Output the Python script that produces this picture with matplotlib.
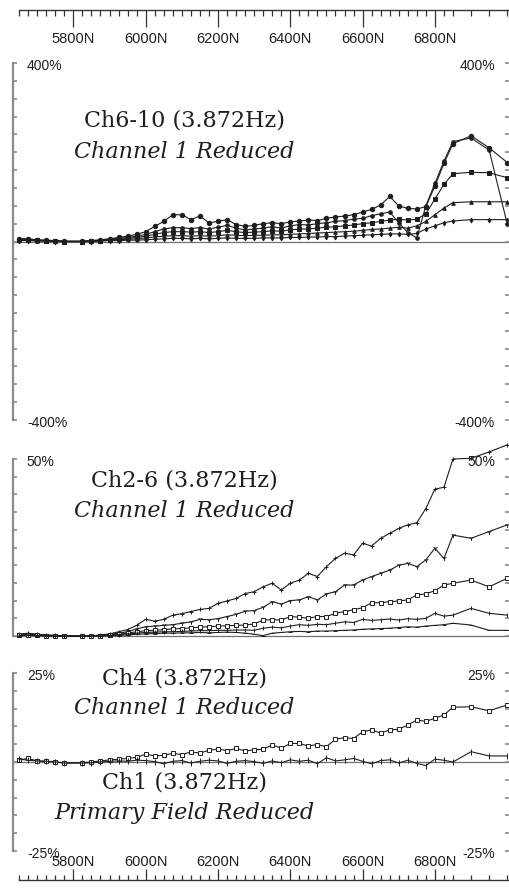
import numpy as np
import matplotlib.pyplot as plt

W, H = 509, 889

# station positions (N), shared by every panel
stations = [5650, 5675, 5700, 5725, 5750, 5775, 5825, 5850, 5875, 5900, 5925, 5950, 5975,
            6000, 6025, 6050, 6075, 6100, 6125, 6150, 6175, 6200, 6225,
            6250, 6275, 6300, 6325, 6350, 6375, 6400, 6425, 6450, 6475,
            6500, 6525, 6550, 6575, 6600, 6625, 6650, 6675, 6700, 6725,
            6750, 6775, 6800, 6825, 6850, 6900, 6950, 7000]
major_ticks = [5800, 6000, 6200, 6400, 6600, 6800]
major_labels = ["5800N", "6000N", "6200N", "6400N", "6600N", "6800N"]

# Ch6-10, channel 1 reduced (%)
ch6_p1 = [6, 6, 4, 3, 2, 1, 1, 2, 4, 6, 9, 12, 16,
          22, 34, 45, 60, 60, 49, 57, 42, 45, 49,
          38, 34, 36, 40, 42, 40, 44, 46, 48, 47,
          52, 55, 57, 60, 66, 72, 82, 101, 80, 74,
          73, 78, 124, 175, 219, 237, 210, 177]
ch7_p1 = [5, 5, 3, 2, 1, 0, 0, 1, 3, 5, 7, 9, 12,
          16, 22, 28, 31, 31, 29, 31, 28, 32, 36,
          30, 26, 28, 30, 33, 30, 35, 38, 37, 40,
          42, 45, 47, 50, 52, 58, 62, 66, 42, 20,
          8, 80, 130, 180, 224, 232, 205, 40]
ch8_p1 = [4, 4, 3, 2, 1, 0, 0, 1, 2, 4, 5, 7, 9,
          12, 16, 20, 22, 22, 21, 22, 20, 22, 25,
          22, 20, 21, 22, 24, 23, 26, 28, 28, 30,
          32, 33, 35, 37, 40, 42, 45, 48, 50, 48,
          50, 62, 95, 128, 152, 155, 154, 143]
ch9_p1 = [3, 3, 2, 1, 1, 0, 0, 1, 2, 3, 4, 5, 6,
          8, 10, 12, 13, 13, 12, 13, 12, 13, 15,
          14, 13, 14, 14, 15, 15, 16, 17, 18, 19,
          20, 21, 22, 23, 25, 27, 28, 30, 32, 30,
          35, 45, 60, 75, 87, 89, 89, 89]
ch10_p1 = [2, 2, 1, 1, 0, 0, 0, 0, 1, 2, 2, 3, 3,
           4, 5, 6, 7, 7, 6, 7, 6, 7, 8,
           7, 7, 7, 8, 8, 8, 9, 9, 10, 10,
           11, 11, 12, 13, 14, 15, 16, 17, 17, 16,
           18, 28, 35, 42, 46, 49, 49, 49]

# Ch2-6, channel 1 reduced (%)
ch2_p2 = [0.5, 0.8, 0.5, 0.3, 0.2, 0.0, 0.0, 0.0, 0.3, 0.6, 1.2, 1.8, 3.0,
          4.7, 4.2, 4.7, 5.9, 6.3, 6.9, 7.5, 7.8, 9.2, 9.9,
          10.6, 12.0, 12.5, 13.9, 14.9, 13.0, 14.9, 15.8, 17.7, 16.8,
          19.6, 21.9, 23.4, 22.9, 26.2, 25.4, 27.6, 29.0, 30.4, 31.4,
          32.0, 36.0, 41.5, 42.0, 50.0, 50.2, 52.0, 54.0]
ch3_p2 = [0.4, 0.6, 0.4, 0.2, 0.1, 0.0, 0.0, 0.0, 0.2, 0.4, 0.8, 1.2, 2.0,
          2.6, 2.8, 3.0, 3.2, 3.6, 4.0, 4.7, 4.6, 4.9, 5.5,
          6.1, 7.0, 7.2, 8.1, 9.7, 9.0, 10.0, 10.2, 11.1, 10.2,
          11.9, 12.5, 14.4, 14.4, 15.8, 16.8, 17.7, 18.6, 20.0, 20.5,
          19.6, 21.5, 24.8, 21.9, 28.5, 27.6, 29.5, 31.4]
ch4_p2 = [0.3, 0.4, 0.3, 0.1, 0.0, 0.0, 0.0, 0.0, 0.1, 0.3, 0.5, 0.8, 1.2,
          1.5, 1.6, 1.8, 2.0, 2.1, 2.3, 2.5, 2.6, 2.8, 2.9,
          3.0, 3.1, 3.4, 4.5, 4.6, 4.5, 5.5, 5.3, 5.0, 5.5,
          5.5, 6.4, 6.9, 7.4, 8.0, 9.4, 9.4, 9.7, 9.9, 10.2,
          11.6, 11.9, 12.8, 14.4, 14.9, 15.8, 13.9, 16.3]
ch5_p2 = [0.2, 0.3, 0.2, 0.1, 0.0, 0.0, 0.0, 0.0, 0.1, 0.2, 0.4, 0.6, 0.8,
          1.0, 1.1, 1.2, 1.2, 1.3, 1.4, 1.5, 1.5, 1.6, 1.6,
          1.7, 1.7, 1.6, 2.2, 2.5, 2.3, 2.8, 3.2, 3.0, 3.3,
          3.2, 3.6, 4.0, 3.8, 4.7, 4.4, 4.6, 4.8, 4.5, 4.9,
          4.7, 5.0, 6.4, 5.6, 5.9, 7.8, 6.4, 5.9]
ch6_p2 = [0.1, 0.2, 0.1, 0.0, 0.0, 0.0, 0.0, 0.0, 0.0, 0.1, 0.2, 0.3, 0.5,
          0.6, 0.7, 0.8, 0.8, 0.9, 0.9, 1.0, 0.9, 1.0, 1.1,
          1.0, 0.8, 0.5, 0.1, 0.8, 1.0, 1.2, 1.3, 1.2, 1.4,
          1.4, 1.5, 1.6, 1.7, 1.9, 2.0, 2.1, 2.2, 2.4, 2.6,
          2.5, 2.8, 3.0, 3.2, 3.6, 3.1, 1.6, 1.6]

# Ch4 (channel 1 reduced) and Ch1 (primary field reduced), %
ch4_p3 = [0.6, 1.0, 0.3, 0.2, 0.1, -0.3, -0.2, 0.0, 0.3, 0.6, 0.8, 1.0, 1.3,
          2.2, 1.7, 1.9, 2.4, 2.1, 2.8, 2.5, 3.3, 3.6, 3.2,
          3.8, 3.1, 3.4, 3.6, 4.8, 3.9, 5.2, 5.2, 4.5, 4.9,
          4.3, 6.4, 6.8, 6.6, 8.5, 9.0, 8.1, 9.0, 9.2, 10.4,
          11.8, 11.4, 12.3, 13.2, 15.4, 15.5, 14.4, 16.0]
ch1_p3 = [0.8, 0.5, 0.3, 0.2, 0.0, -0.3, -0.3, -0.2, 0.0, 0.2, 0.3, 0.2, 0.5,
          0.4, 0.1, -0.5, 0.2, 0.4, -0.3, 0.2, 0.5, 0.3, -0.4,
          0.2, 0.4, 0.1, -0.4, 0.3, -0.2, 0.6, 0.2, 0.5, -0.5,
          1.2, 0.3, 0.6, 1.0, 0.2, -0.5, 0.4, 0.6, -0.3, 0.5,
          -0.4, -1.0, 0.8, 0.5, 0.0, 2.9, 1.7, 1.7]

XLIM = (5633, 7005)
INK = '#1e1e1e'
AXC = '#8a8a8a'
SANS = 'Liberation Sans'
SERIF = 'DejaVu Serif'

fig = plt.figure(figsize=(W / 100, H / 100), dpi=100)


def box(x0, y_top, x1, y_bot):
    # pixel box -> figure fraction rect
    return [x0 / W, 1 - y_bot / H, (x1 - x0) / W, (y_bot - y_top) / H]


def panel(rect, lo, hi, step, top_lbl, bot_lbl):
    ax = fig.add_axes(rect)
    ax.set_xlim(XLIM)
    ax.set_ylim(lo, hi)
    ax.patch.set_alpha(0)
    for s in ('top', 'bottom', 'right'):
        ax.spines[s].set_visible(False)
    ax.spines['left'].set_color(AXC)
    ax.spines['left'].set_linewidth(1.6)
    ax.set_xticks([])
    ax.set_yticks(np.arange(lo, hi + step / 2, step))
    ax.tick_params(axis='y', left=True, right=True, direction='in', length=3,
                   width=1.2, color=AXC, labelleft=False, labelright=False)
    ax.axhline(0, color='#707070', lw=0.9, zorder=1, clip_on=False)
    kw = dict(xycoords='axes fraction', textcoords='offset points',
              fontsize=10, family=SANS, color=INK, va='center')
    ax.annotate(top_lbl, (0.028, 1), xytext=(0, -2), ha='left', **kw)
    ax.annotate(top_lbl, (0.972, 1), xytext=(0, -2), ha='right', **kw)
    if bot_lbl:
        ax.annotate(bot_lbl, (0.028, 0), xytext=(0, -2.5), ha='left', **kw)
        ax.annotate(bot_lbl, (0.972, 0), xytext=(0, -2.5), ha='right', **kw)
    return ax


def trace(ax, vals, marker, ms, mfc=INK):
    ax.plot(stations, vals, color=INK, lw=0.8, marker=marker, ms=ms,
            mfc=mfc, mec=INK, mew=0.7, clip_on=False, zorder=3)


ax1 = panel(box(13, 63, 509, 420), -400, 400, 40, '400%', '-400%')
trace(ax1, ch6_p1, 'o', 3.2)
trace(ax1, ch7_p1, 'o', 2.6)
trace(ax1, ch8_p1, 's', 2.6)
trace(ax1, ch9_p1, '^', 2.6)
trace(ax1, ch10_p1, 'd', 2.4)

ax2 = panel(box(13, 459, 509, 636), 0, 50, 5, '50%', None)
trace(ax2, ch2_p2, '+', 3.5)
trace(ax2, ch3_p2, '1', 3.5)
trace(ax2, ch4_p2, 's', 2.8, mfc='white')
trace(ax2, ch5_p2, '|', 3.5)
trace(ax2, ch6_p2, '_', 3.5)

ax3 = panel(box(13, 673, 509, 851), -25, 25, 5, '25%', '-25%')
trace(ax3, ch4_p3, 's', 3.2, mfc='white')
trace(ax3, ch1_p3, '|', 4.5)

# panel captions
cx = 184 / W
titles = [
    (121, 'Ch6-10 (3.872Hz)', 'normal'),
    (152, 'Channel 1 Reduced', 'italic'),
    (481, 'Ch2-6 (3.872Hz)', 'normal'),
    (511, 'Channel 1 Reduced', 'italic'),
    (678, 'Ch4 (3.872Hz)', 'normal'),
    (708, 'Channel 1 Reduced', 'italic'),
    (782, 'Ch1 (3.872Hz)', 'normal'),
    (813, 'Primary Field Reduced', 'italic'),
]
for y, txt, st in titles:
    fig.text(cx, 1 - y / H, txt, ha='center', va='center', fontsize=16,
             family=SERIF, style=st, color=INK)


def ruler(rect, side):
    ax = fig.add_axes(rect)
    ax.set_xlim(XLIM)
    ax.set_yticks([])
    ax.patch.set_alpha(0)
    for s in ax.spines.values():
        s.set_visible(False)
    ax.spines[side].set_visible(True)
    ax.spines[side].set_color('#333333')
    ax.spines[side].set_linewidth(1.0)
    ax.spines[side].set_bounds(stations[0], XLIM[1])
    ax.set_xticks(major_ticks)
    ax.set_xticklabels(major_labels, family=SANS, fontsize=10.5, color=INK)
    ax.set_xticks(stations, minor=True)
    top = side == 'top'
    ax.tick_params(axis='x', which='both', top=top, bottom=not top,
                   labeltop=not top, labelbottom=top, direction='in',
                   color='#333333', width=0.9, pad=1)
    ax.tick_params(axis='x', which='major', length=12 if top else 8)
    ax.tick_params(axis='x', which='minor', length=4.5 if top else 3.5)
    return ax


ruler(box(13, 10, 509, 31), 'top')
ruler(box(13, 870, 509, 880), 'bottom')

fig.savefig('out.png', dpi=100, facecolor='white')
